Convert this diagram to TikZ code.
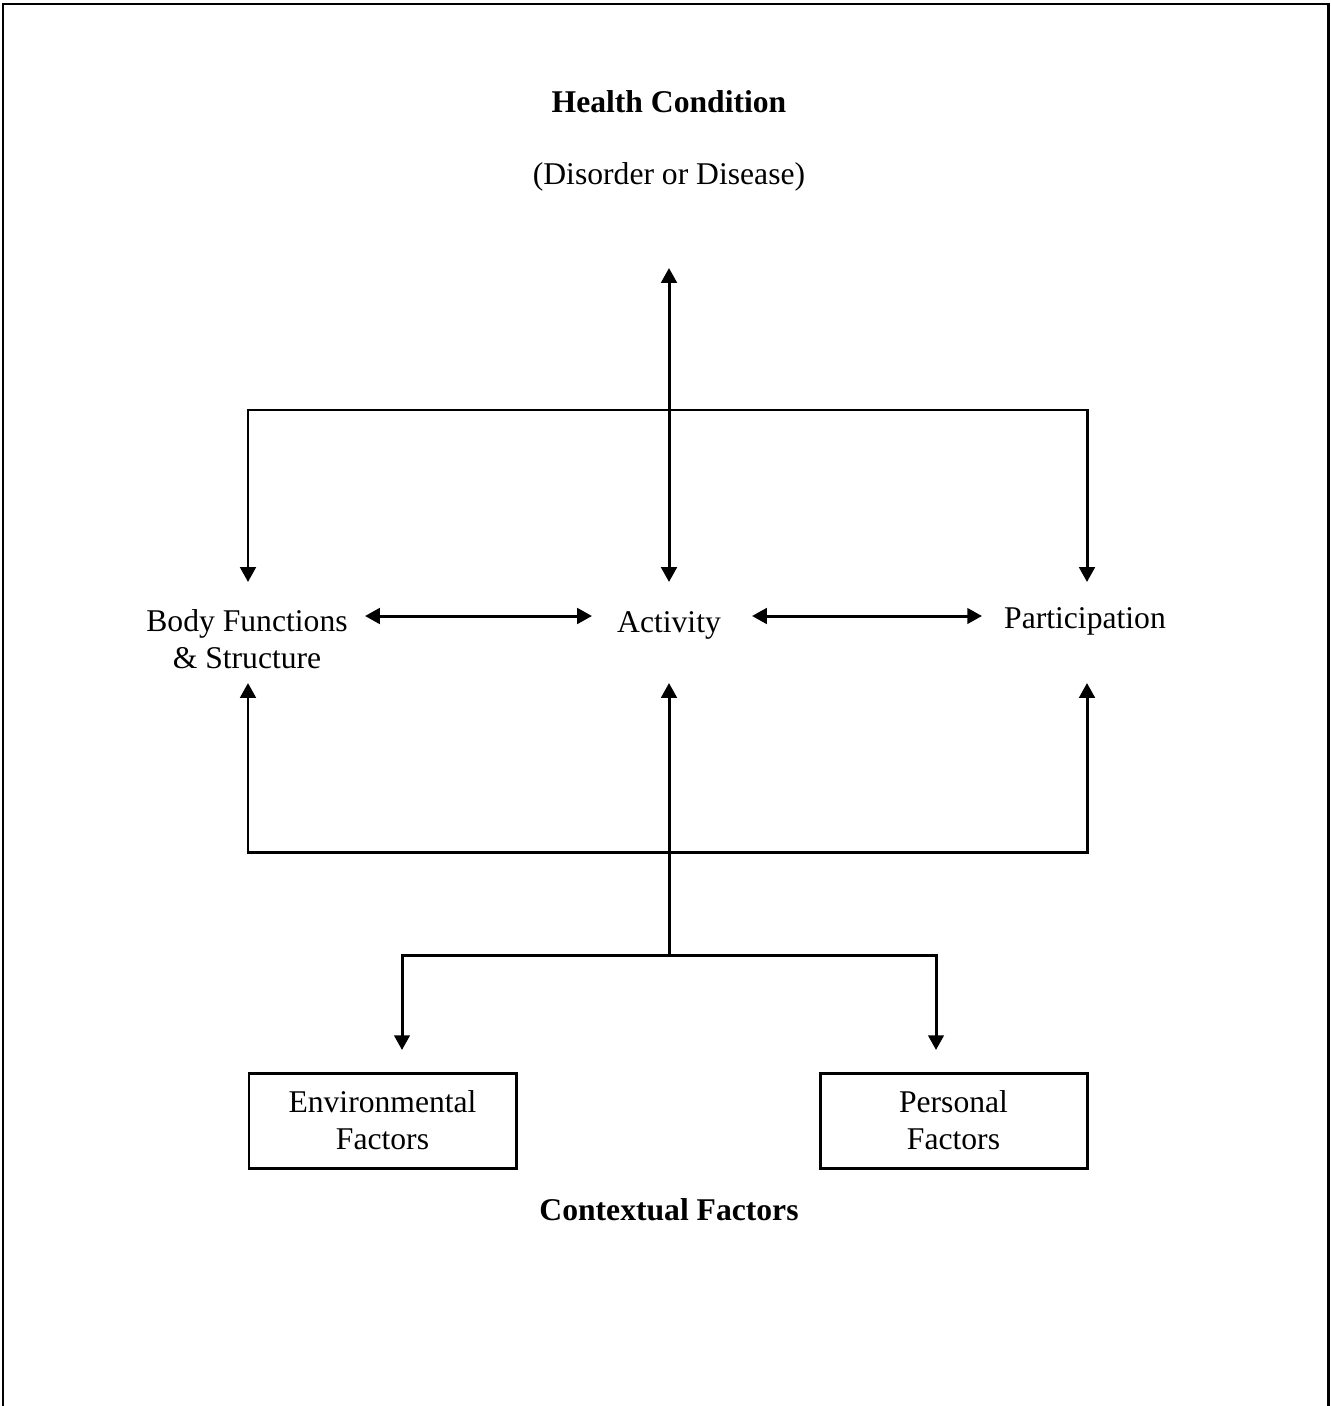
\documentclass[tikz,border=0pt]{standalone}
\usepackage{fontspec}
\setmainfont{Liberation Serif}
\usepackage{tikz}
\usetikzlibrary{arrows.meta}
\usetikzlibrary{positioning}

\begin{document}
\begin{tikzpicture}[line width=0.85pt,
		>={Triangle[length=4.2pt,width=4.4pt]},
		every node/.style={font=\fontsize{9}{10.6}\selectfont,align=center},
		factorbox/.style={draw,minimum width=2.67cm,minimum height=0.95cm}]
		\useasboundingbox (0,0) rectangle (13.3,-14.06);
		\draw (0.03,-14.06) -- (0.03,-0.04) -- (13.28,-0.04) -- (13.28,-14.06);

		\node (hc) at (6.69,-1.02) {\textbf{Health Condition}};
		\node (dis) at (6.69,-1.77) {(Disorder or Disease)};
		\node (bfs) at (2.47,-6.39) {Body Functions\\ \& Structure};
		\node (act) at (6.69,-6.25) {Activity};
		\node (par) at (10.85,-6.21) {Participation};
		\node[factorbox] (env) at (3.825,-11.205) {Environmental\\ Factors};
		\node[factorbox] (pers) at (9.535,-11.205) {Personal\\ Factors};
		\node (ctx) at (6.69,-12.10) {\textbf{Contextual Factors}};

		\coordinate (hctip) at (6.69,-2.68);
		\coordinate (topm) at (6.69,-4.10);
		\coordinate (acttop) at (6.69,-5.82);
		\coordinate (bfstop) at (2.48,-5.82);
		\coordinate (partop) at (10.87,-5.82);
		\coordinate (bfsright) at (3.65,-6.16);
		\coordinate (actleft) at (5.92,-6.16);
		\coordinate (actright) at (7.52,-6.16);
		\coordinate (parleft) at (9.82,-6.16);
		\coordinate (bfsbot) at (2.48,-6.83);
		\coordinate (actbot) at (6.69,-6.83);
		\coordinate (parbot) at (10.87,-6.83);
		\coordinate (botm) at (6.69,-8.52);
		\coordinate (ctxm) at (6.69,-9.55);
		\coordinate (envtop) at (4.02,-10.50);
		\coordinate (perstop) at (9.36,-10.50);

		% health condition links
		\draw[<->] (acttop) -- (hctip);
		\draw[->] (topm) -| (bfstop);
		\draw[->] (topm) -| (partop);

		% middle row
		\draw[<->] (bfsright) -- (actleft);
		\draw[<->] (actright) -- (parleft);

		% contextual factors links
		\draw[->] (ctxm) -- (actbot);
		\draw[->] (botm) -| (bfsbot);
		\draw[->] (botm) -| (parbot);
		\draw[->] (ctxm) -| (envtop);
		\draw[->] (ctxm) -| (perstop);
	\end{tikzpicture}
\end{document}
